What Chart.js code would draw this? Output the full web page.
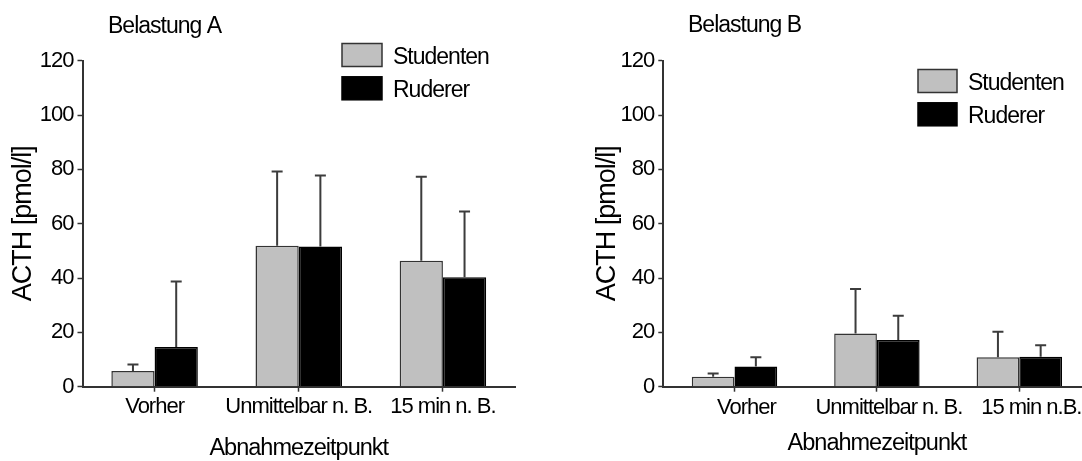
<!DOCTYPE html>
<html>
<head>
<meta charset="utf-8">
<script src="https://cdn.jsdelivr.net/npm/chart.js@4"></script>
<style>
  html, body { margin: 0; padding: 0; background: #fff; overflow: hidden; }
  body { width: 1082px; height: 461px; position: relative; }
  .panel { position: absolute; top: 0; height: 461px; }
  #panelA { left: 0; width: 540px; }
  #panelB { left: 560px; width: 545px; }
</style>
</head>
<body>
<div class="panel" id="panelA"><canvas id="chartA" width="540" height="461"></canvas></div>
<div class="panel" id="panelB"><canvas id="chartB" width="545" height="461"></canvas></div>
<script>
// categories and values
const categoriesA = ["Vorher", "Unmittelbar n. B.", "15 min n. B."];
const categoriesB = ["Vorher", "Unmittelbar n. B.", "15 min n.B."];
const seriesNames = ["Studenten", "Ruderer"];

const studentenA = [5.8, 51.9, 46.4];
const studentenA_sd = [2.4, 27.3, 30.9];
const rudererA = [14.6, 51.6, 40.3];
const rudererA_sd = [24.1, 26.1, 24.2];

const studentenB = [3.7, 19.6, 10.8];
const studentenB_sd = [1.2, 16.4, 9.4];
const rudererB = [7.4, 17.2, 11.0];
const rudererB_sd = [3.4, 8.9, 4.3];

const yMin = 0;
const yMax = 120;
const yStep = 10;      // minor tick every 10
const yLabelEvery = 20; // labels every 20

const FONT = '"Liberation Sans", Arial, sans-serif';
Chart.defaults.font.family = FONT;
Chart.defaults.color = "#000";

// the original lettering is set a little tighter than Arial
const tightText = {
    id: "tightText",
    beforeLayout(chart) { chart.ctx.letterSpacing = "-1px"; },
    beforeDraw(chart) { chart.ctx.letterSpacing = "-1px"; }
};

// error bars (mean + SD, upper only)
const errorBars = {
    id: "errorBars",
    afterDatasetsDraw(chart, args, opts) {
        const ctx = chart.ctx;
        const y = chart.scales.y;
        chart.data.datasets.forEach((ds, i) => {
            const meta = chart.getDatasetMeta(i);
            meta.data.forEach((bar, j) => {
                const top = y.getPixelForValue(ds.data[j] + ds.sd[j]);
                ctx.save();
                ctx.strokeStyle = opts.color;
                ctx.lineWidth = opts.width;
                ctx.beginPath();
                ctx.moveTo(bar.x, bar.y);
                ctx.lineTo(bar.x, top);
                ctx.moveTo(bar.x - opts.cap / 2, top);
                ctx.lineTo(bar.x + opts.cap / 2, top);
                ctx.stroke();
                ctx.restore();
            });
        });
    }
};

// panel heading + box legend
const panelDecor = {
    id: "panelDecor",
    afterDraw(chart, args, opts) {
        const ctx = chart.ctx;
        ctx.save();
        ctx.letterSpacing = "-1px";
        ctx.textBaseline = "alphabetic";
        ctx.fillStyle = "#000";
        ctx.font = "23px " + FONT;
        ctx.fillText(opts.title, opts.titleX, opts.titleY);

        chart.data.datasets.forEach((ds, i) => {
            const by = opts.legendY + i * opts.legendStep;
            ctx.fillStyle = ds.backgroundColor;
            ctx.fillRect(opts.legendX, by, opts.boxW, opts.boxH);
            ctx.strokeStyle = ds.borderColor;
            ctx.lineWidth = 1.5;
            ctx.strokeRect(opts.legendX, by, opts.boxW, opts.boxH);
            ctx.fillStyle = "#000";
            ctx.fillText(ds.label, opts.legendX + opts.boxW + 11, by + opts.boxH / 2 + 9);
        });
        ctx.restore();
    }
};

function makeChart(id, labels, s1, s1sd, s2, s2sd, cfg) {
    return new Chart(document.getElementById(id), {
        type: "bar",
        data: {
            labels: labels,
            datasets: [
                {
                    label: seriesNames[0],
                    data: s1,
                    sd: s1sd,
                    backgroundColor: "#c0c0c0",
                    borderColor: "#333333",
                    borderWidth: 1.5
                },
                {
                    label: seriesNames[1],
                    data: s2,
                    sd: s2sd,
                    backgroundColor: "#000000",
                    borderColor: "#000000",
                    borderWidth: 1.5
                }
            ]
        },
        options: {
            responsive: false,
            animation: false,
            categoryPercentage: 0.6,
            barPercentage: 1.0,
            layout: { padding: cfg.padding },
            plugins: {
                legend: { display: false },
                tooltip: { enabled: false },
                errorBars: { color: "#3c3c3c", width: 2, cap: 11 },
                panelDecor: cfg.decor
            },
            scales: {
                x: {
                    offset: true,
                    grid: { offset: false, drawOnChartArea: false, tickLength: 5, color: "#333", tickWidth: 1.5 },
                    border: { color: "#333", width: 2 },
                    ticks: { font: { size: 22 }, color: "#000", padding: cfg.xTickPad, labelOffset: cfg.labelOffset, maxRotation: 0, autoSkip: false },
                    title: { display: true, text: "Abnahmezeitpunkt", font: { size: 23.5, lineHeight: 1.1 }, color: "#000", padding: { top: 0, bottom: 0 } },
                    afterFit(scale) { scale.height = cfg.xHeight; }
                },
                y: {
                    min: yMin,
                    max: yMax,
                    ticks: {
                        stepSize: yStep,
                        font: { size: 22 },
                        color: "#000",
                        padding: 4,
                        callback: v => (v % yLabelEvery === 0 ? v : "")
                    },
                    grid: { drawOnChartArea: false, tickLength: 5, color: "#333", tickWidth: 1.5 },
                    border: { color: "#333", width: 2 },
                    title: { display: true, text: "ACTH [pmol/l]", font: { size: 27 }, color: "#000", padding: { top: 7.8, bottom: 0 } },
                    afterFit(scale) { scale.width = cfg.yWidth; }
                }
            }
        },
        plugins: [tightText, errorBars, panelDecor]
    });
}

makeChart("chartA", categoriesA, studentenA, studentenA_sd, rudererA, rudererA_sd, {
    padding: { left: 0, right: 25, top: 60.7, bottom: 0 },
    xHeight: 74.3,
    yWidth: 82.5,
    xTickPad: 1.8,
    labelOffset: 0,
    decor: { title: "Belastung A", titleX: 108, titleY: 33, legendX: 342, legendY: 43.5, legendStep: 33.3, boxW: 40, boxH: 23 }
});

makeChart("chartB", categoriesB, studentenB, studentenB_sd, rudererB, rudererB_sd, {
    padding: { left: 24, right: 14.5, top: 60.7, bottom: 4.8 },
    xHeight: 69.5,
    yWidth: 79.3,
    xTickPad: 3.1,
    labelOffset: 12,
    decor: { title: "Belastung B", titleX: 128, titleY: 31.5, legendX: 358, legendY: 69.5, legendStep: 33.3, boxW: 39, boxH: 23 }
});
</script>
</body>
</html>
